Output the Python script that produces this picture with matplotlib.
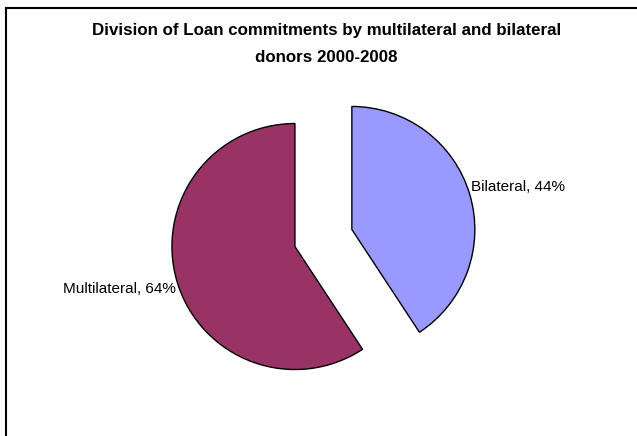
import matplotlib
matplotlib.use('Agg')
import matplotlib.pyplot as plt
from matplotlib.patches import Rectangle

plt.rcParams['font.family'] = ['Liberation Sans', 'DejaVu Sans']

# data
labels = ['Bilateral', 'Multilateral']
values = [44, 64]
colors = ['#9999FF', '#993366']

W, H = 637, 436
fig = plt.figure(figsize=(W / 100, H / 100), dpi=100)
ax = fig.add_axes([0, 0, 1, 1])

# pie in pixel coordinates
wedges, _ = ax.pie(values, colors=colors, startangle=90, counterclock=False,
                   center=(323.4, 198), radius=123, explode=[29.7, 29.7],
                   wedgeprops=dict(edgecolor='black', linewidth=1.0))
ax.set_xlim(0, W)
ax.set_ylim(0, H)
ax.set_aspect('equal')
ax.axis('off')

# data labels
ax.text(471, 249, f'{labels[0]}, {values[0]}%', ha='left', va='center', fontsize=11)
ax.text(176, 147, f'{labels[1]}, {values[1]}%', ha='right', va='center', fontsize=11)

# title
ax.text(326.5, 405, 'Division of Loan commitments by multilateral and bilateral',
        ha='center', va='center', fontsize=12.2, fontweight='bold')
ax.text(326.5, 378, 'donors 2000-2008', ha='center', va='center',
        fontsize=12.2, fontweight='bold')

# chart area border (left and top edges visible)
fig.patches.append(Rectangle((5.5 / W, -0.1), 1.2, (H - 7.5) / H + 0.1,
                             transform=fig.transFigure, fill=False,
                             edgecolor='black', linewidth=1.5))

fig.savefig('out.png', dpi=100)
